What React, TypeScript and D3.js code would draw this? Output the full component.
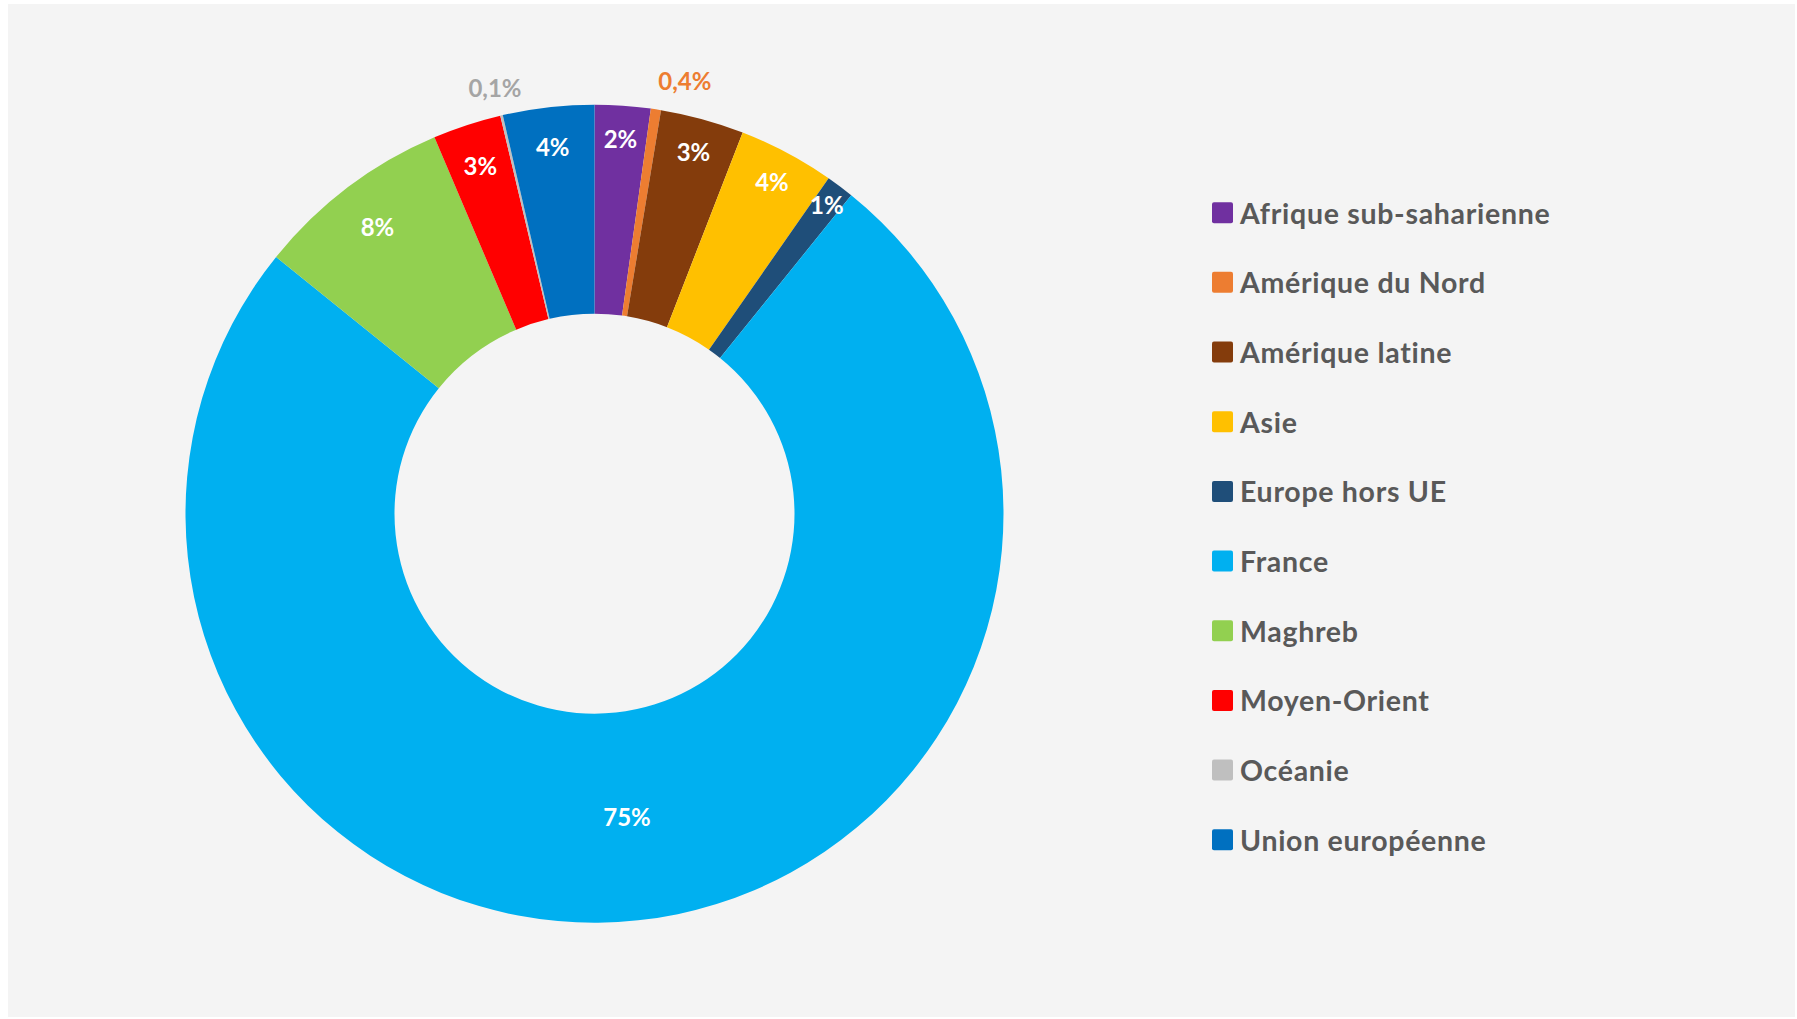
import React from 'react';
import * as d3 from 'd3';

// regions, in the order of the legend and of the ring (clockwise from 12 o'clock)
const regions = [
  'Afrique sub-saharienne',
  'Amérique du Nord',
  'Amérique latine',
  'Asie',
  'Europe hors UE',
  'France',
  'Maghreb',
  'Moyen-Orient',
  'Océanie',
  'Union européenne',
];

// share of the total, in %
const shares = [2.2, 0.4, 3.3, 3.8, 1.1, 75.0, 7.8, 2.7, 0.1, 3.6];

// label texts as shown on the chart
const shareLabels = ['2%', '0,4%', '3%', '4%', '1%', '75%', '8%', '3%', '0,1%', '4%'];

const colors = [
  '#7030a0',
  '#ed7d31',
  '#843c0c',
  '#ffc000',
  '#1f4e79',
  '#00b0f0',
  '#92d050',
  '#ff0000',
  '#bfbfbf',
  '#0070c0',
];

const W = 1797;
const H = 1019;
const center = { x: 594.5, y: 513.7 };
const outerR = 409;
const innerR = 200;
const font = 'Lato, "Open Sans", sans-serif';

// distance of each label from the centre (best-fit placement of the original)
const labelRadius: Record<string, number> = {
  'Afrique sub-saharienne': 376,
  'Amérique du Nord': 438,
  'Amérique latine': 375,
  'Asie': 377,
  'Europe hors UE': 387,
  'France': 305,
  'Maghreb': 360,
  'Moyen-Orient': 366,
  'Océanie': 438,
  'Union européenne': 370,
};

// tiny slices get their label outside the ring, in the slice colour
const outsideLabelColor: Record<string, string> = {
  'Amérique du Nord': '#ed7d31',
  'Océanie': '#a5a5a5',
};

interface Slice {
  name: string;
  value: number;
  label: string;
  color: string;
}

export default function App() {
  const data: Slice[] = regions.map((name, i) => ({
    name,
    value: shares[i],
    label: shareLabels[i],
    color: colors[i],
  }));

  const pie = d3
    .pie<Slice>()
    .sort(null)
    .value((d) => d.value)
    .startAngle(0)
    .endAngle(2 * Math.PI);

  const arcs = pie(data);

  const arc = d3.arc<d3.PieArcDatum<Slice>>().innerRadius(innerR).outerRadius(outerR);

  const labelPos = (a: d3.PieArcDatum<Slice>) => {
    const r = labelRadius[a.data.name] ?? 372;
    return d3.arc<d3.PieArcDatum<Slice>>().innerRadius(r).outerRadius(r).centroid(a);
  };

  const legendX = 1212;
  const legendY0 = 212.7;
  const legendStep = 69.67;
  const sq = 21;

  return (
    <svg
      width={W}
      height={H}
      style={{ position: 'absolute', left: 0, top: 0, background: '#ffffff' }}
    >
      <rect x={8} y={4} width={W - 10} height={H - 6} fill="#f4f4f4" />

      <g transform={`translate(${center.x},${center.y})`}>
        {arcs.map((a) => (
          <path key={a.data.name} d={arc(a) ?? ''} fill={a.data.color} />
        ))}

        {arcs.map((a) => {
          const [x, y] = labelPos(a);
          const outsideColor = outsideLabelColor[a.data.name];
          // the north america label sits to the right of its slice
          const isNord = a.data.name === 'Amérique du Nord';
          return (
            <text
              key={`lbl-${a.data.name}`}
              x={isNord ? x - 2 : x}
              y={y}
              textAnchor={isNord ? 'start' : 'middle'}
              dominantBaseline="central"
              fontFamily={font}
              fontWeight={700}
              fontSize={24}
              fill={outsideColor ?? '#ffffff'}
            >
              {a.data.label}
            </text>
          );
        })}
      </g>

      {/* legend */}
      {data.map((d, i) => {
        const cy = legendY0 + i * legendStep;
        return (
          <g key={`leg-${d.name}`}>
            <rect x={legendX} y={cy - sq / 2} width={sq} height={sq} rx={2} fill={d.color} />
            <text
              x={legendX + 28}
              y={cy}
              dominantBaseline="central"
              fontFamily={font}
              fontWeight={700}
              fontSize={28.5}
              letterSpacing={0.7}
              fill="#595959"
            >
              {d.name}
            </text>
          </g>
        );
      })}
    </svg>
  );
}
